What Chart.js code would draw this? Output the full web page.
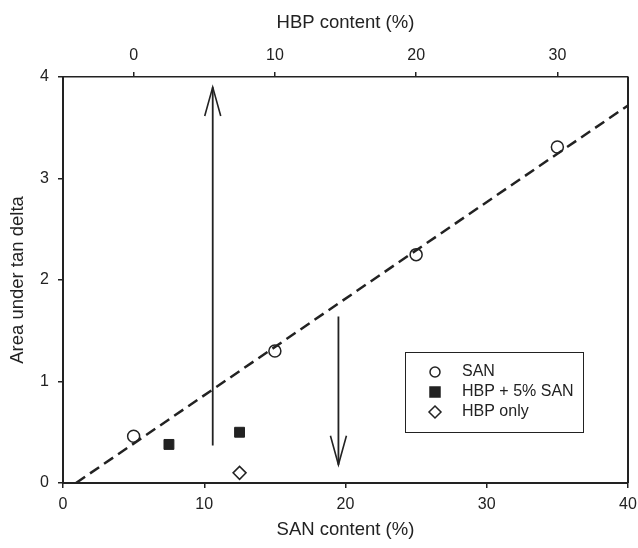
<!DOCTYPE html>
<html>
<head>
<meta charset="utf-8">
<script src="https://cdn.jsdelivr.net/npm/chart.js@4.4.1/dist/chart.umd.min.js"></script>
<style>
  html, body { margin: 0; padding: 0; background: #fff; }
  #wrap { width: 638px; height: 548px; position: relative; }
</style>
</head>
<body>
<div id="wrap"><canvas id="chart"></canvas></div>
<script>
//-----------------------------------------------------------------------------
// Data
const sanX = [5, 15, 25, 35];
const sanY = [0.46, 1.30, 2.25, 3.31];
const hbpSanX = [7.5, 12.5];
const hbpSanY = [0.38, 0.50];
const hbpOnlyX = [12.5];
const hbpOnlyY = [0.10];
const fitX = [0.92, 40];
const fitY = [0, 3.72];
const arrowUpX = [10.6, 10.6];
const arrowUpY = [0.37, 3.9];
const arrowDownX = [19.5, 19.5];
const arrowDownY = [1.64, 0.18];
const xTicks = [0, 10, 20, 30, 40];
const topTicks = [0, 10, 20, 30];
const yTicks = [0, 1, 2, 3, 4];
const legendLabels = ['SAN', 'HBP + 5% SAN', 'HBP only'];

//-----------------------------------------------------------------------------
// Helpers
const INK = '#222';
const FAMILY = '"Liberation Sans", Arial, Helvetica, sans-serif';
Chart.defaults.font.family = FAMILY;
Chart.defaults.color = INK;

function pts(xs, ys) {
  return xs.map((x, i) => ({x: x, y: ys[i]}));
}

function fixTicks(values) {
  return function(scale) {
    scale.ticks = values.map(v => ({value: v}));
  };
}

function drawSymbol(ctx, kind, x, y, r) {
  ctx.save();
  ctx.lineWidth = 1.5;
  ctx.strokeStyle = INK;
  ctx.fillStyle = kind === 'square' ? INK : '#fff';
  ctx.beginPath();
  if (kind === 'circle') {
    ctx.arc(x, y, r, 0, 2 * Math.PI);
  } else if (kind === 'square') {
    ctx.rect(x - r, y - r, 2 * r, 2 * r);
  } else {
    ctx.moveTo(x, y - r); ctx.lineTo(x + r, y); ctx.lineTo(x, y + r); ctx.lineTo(x - r, y); ctx.closePath();
  }
  ctx.fill();
  ctx.stroke();
  ctx.restore();
}

// arrow heads, right frame line, legend box
const extras = {
  id: 'extras',
  afterDatasetsDraw(chart) {
    const {ctx, chartArea: a, scales: {x, y}} = chart;
    ctx.save();
    ctx.strokeStyle = INK;
    // arrow heads
    [[arrowUpX, arrowUpY], [arrowDownX, arrowDownY]].forEach(function(ar) {
      const x0 = x.getPixelForValue(ar[0][0]), y0 = y.getPixelForValue(ar[1][0]);
      const x1 = x.getPixelForValue(ar[0][1]), y1 = y.getPixelForValue(ar[1][1]);
      const ang = Math.atan2(y1 - y0, x1 - x0);
      const len = 30, spread = 0.27;
      ctx.lineWidth = 1.6;
      ctx.beginPath();
      ctx.moveTo(x1 - len * Math.cos(ang - spread), y1 - len * Math.sin(ang - spread));
      ctx.lineTo(x1, y1);
      ctx.lineTo(x1 - len * Math.cos(ang + spread), y1 - len * Math.sin(ang + spread));
      ctx.stroke();
    });
    // right frame
    ctx.lineWidth = 2;
    ctx.beginPath();
    ctx.moveTo(a.right, a.top);
    ctx.lineTo(a.right, a.bottom);
    ctx.stroke();
    // legend
    const bx = a.right - 223, by = a.bottom - 131, bw = 178, bh = 80;
    ctx.fillStyle = '#fff';
    ctx.fillRect(bx, by, bw, bh);
    ctx.lineWidth = 1;
    ctx.strokeRect(bx + 0.5, by + 0.5, bw, bh);
    const kinds = ['circle', 'square', 'diamond'];
    const sizes = [5, 5, 6];
    ctx.font = '16px ' + FAMILY;
    ctx.textBaseline = 'middle';
    ctx.textAlign = 'left';
    legendLabels.forEach(function(t, i) {
      const ly = by + 20 + i * 20;
      drawSymbol(ctx, kinds[i], bx + 30, ly, sizes[i]);
      ctx.fillStyle = INK;
      ctx.fillText(t, bx + 57, ly);
    });
    ctx.restore();
  }
};

function axis(pos, min, max, ticks, size, title, titlePad) {
  return {
    type: 'linear',
    position: pos,
    min: min,
    max: max,
    afterBuildTicks: fixTicks(ticks),
    afterFit: function(s) {
      if (pos === 'left') {
        s.width = size;
        s.paddingTop = 0; s.paddingBottom = 0;
      } else {
        s.height = size;
        s.paddingLeft = 0; s.paddingRight = 0;
      }
    },
    grid: {display: true, drawOnChartArea: false, drawTicks: true, tickLength: 5, color: INK, lineWidth: 1.5},
    border: {display: true, color: INK, width: pos === 'top' ? 1.5 : 2},
    ticks: {color: INK, font: {size: 16}, padding: pos === 'left' ? 9 : 7, maxRotation: 0},
    title: {display: true, text: title, color: INK, font: {size: 18.5}, padding: titlePad}
  };
}

//-----------------------------------------------------------------------------
// Chart
new Chart(document.getElementById('chart'), {
  type: 'scatter',
  data: {
    datasets: [
      {label: 'fit', data: pts(fitX, fitY), showLine: true, borderColor: INK, borderWidth: 2.5,
       borderDash: [11, 6], pointRadius: 0},
      {label: 'up', data: pts(arrowUpX, arrowUpY), showLine: true, borderColor: INK, borderWidth: 1.8, pointRadius: 0},
      {label: 'down', data: pts(arrowDownX, arrowDownY), showLine: true, borderColor: INK, borderWidth: 1.8, pointRadius: 0},
      {label: legendLabels[0], data: pts(sanX, sanY), pointStyle: 'circle', pointRadius: 6,
       backgroundColor: '#fff', borderColor: INK, borderWidth: 1.5},
      {label: legendLabels[1], data: pts(hbpSanX, hbpSanY), pointStyle: 'rect', pointRadius: 7,
       backgroundColor: INK, borderColor: INK, borderWidth: 1},
      {label: legendLabels[2], data: pts(hbpOnlyX, hbpOnlyY), pointStyle: 'rectRot', pointRadius: 6.5,
       backgroundColor: '#fff', borderColor: INK, borderWidth: 1.5}
    ]
  },
  options: {
    responsive: true,
    maintainAspectRatio: false,
    animation: false,
    layout: {padding: {left: 0, right: 10, top: 0, bottom: 0}},
    plugins: {legend: {display: false}, tooltip: {enabled: false}},
    scales: {
      x: axis('bottom', 0, 40, xTicks, 65, 'SAN content (%)', {top: 0, bottom: 7}),
      x2: axis('top', -5, 35, topTicks, 77, 'HBP content (%)', {top: 12, bottom: 0}),
      y: axis('left', 0, 4, yTicks, 63, 'Area under tan delta', {top: 7, bottom: 0})
    }
  },
  plugins: [extras]
});
</script>
</body>
</html>
